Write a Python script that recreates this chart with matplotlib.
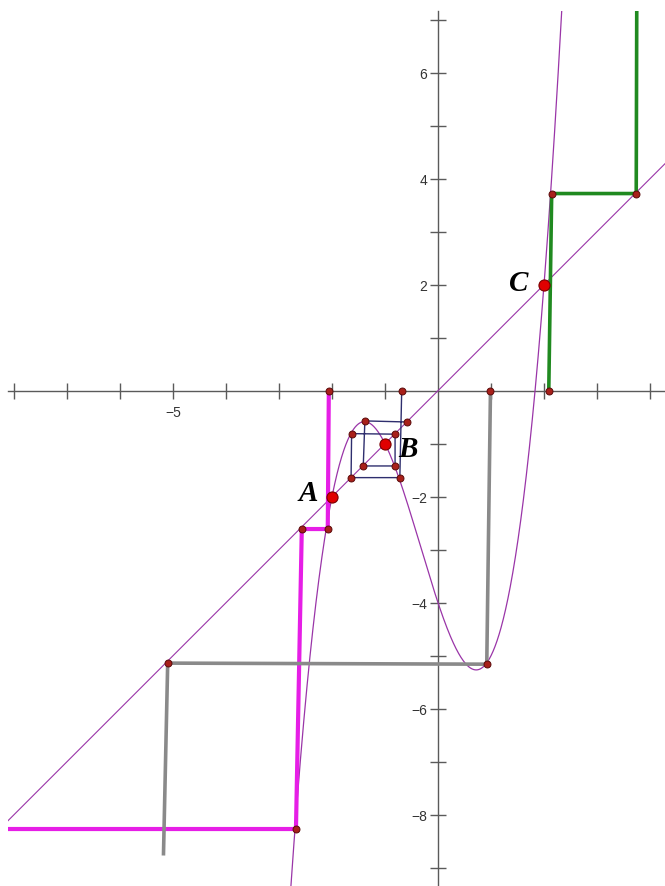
import numpy as np
import matplotlib
matplotlib.use("Agg")
import matplotlib.pyplot as plt

# === data ===
# cubic f(x) = x^3 + x^2 - 3x - 4 and the line y = x
cubic_coeffs = [1, 1, -3, -4]

# fixed points
fixed_names = ["A", "B", "C"]
fixed_x = [-2.0, -1.0, 2.0]
fixed_y = [-2.0, -1.0, 2.0]

# cobweb paths (vertices in data coords)
magenta_x = [-2.06, -2.08, -2.57, -2.68, -8.12]
magenta_y = [0.0, -2.61, -2.61, -8.27, -8.27]
magenta_dots = 4  # first n vertices carry a dot

grey_x = [0.99, 0.92, -5.10, -5.18]
grey_y = [0.0, -5.16, -5.14, -8.77]
grey_dots = 3

green_x = [2.09, 2.145, 3.74, 3.75]
green_y = [0.0, 3.72, 3.72, 7.2]
green_dots = 3

blue_x = [-0.685, -0.72, -1.64, -1.63, -0.81, -0.81, -1.41, -1.38, -0.59]
blue_y = [0.0, -1.64, -1.64, -0.81, -0.82, -1.42, -1.42, -0.57, -0.59]
blue_dots = 9

x_ticks = list(range(-8, 5))
x_labels = {-5: "\u22125"}
y_ticks = list(range(-9, 8))
y_labels = {6: "6", 4: "4", 2: "2", -2: "\u22122", -4: "\u22124", -6: "\u22126", -8: "\u22128"}

# === figure ===
W, H = 665, 887
fig = plt.figure(figsize=(W / 100, H / 100), dpi=100)
left_px, top_px = 8, 12
ax = fig.add_axes([left_px / W, 0, (W - left_px) / W, (H - top_px) / H])
unit = 53.0
ox, oy = 438.0, 391.7
ax.set_xlim((left_px - ox) / unit, (W - ox) / unit)
ax.set_ylim(-(H - oy) / unit, (oy - top_px) / unit)
ax.set_aspect("equal", adjustable="box")

axis_col = "#5a5a5a"
for s in ["top", "right"]:
    ax.spines[s].set_visible(False)
ax.spines["left"].set_position(("data", 0))
ax.spines["bottom"].set_position(("data", 0))
for s in ["left", "bottom"]:
    ax.spines[s].set_color(axis_col)
    ax.spines[s].set_linewidth(1.0)

ax.set_xticks(x_ticks)
ax.set_xticklabels([x_labels.get(t, "") for t in x_ticks])
ax.set_yticks(y_ticks)
ax.set_yticklabels([y_labels.get(t, "") for t in y_ticks])
for lab in ax.get_xticklabels() + ax.get_yticklabels():
    lab.set_family(["Liberation Sans", "DejaVu Sans"])
ax.tick_params(direction="inout", length=11, width=1.0, color=axis_col,
               labelsize=10, labelcolor="#333333", pad=2.5)
ax.tick_params(axis="x", pad=5)
# hide ticks at origin
for t in ax.xaxis.get_major_ticks():
    if abs(t.get_loc()) < 1e-9:
        t.tick1line.set_visible(False)
for t in ax.yaxis.get_major_ticks():
    if abs(t.get_loc()) < 1e-9:
        t.tick1line.set_visible(False)

curve_col = "#9a35a8"
xmin, xmax = ax.get_xlim()
xs = np.linspace(xmin, xmax, 2000)
ax.plot(xs, np.polyval(cubic_coeffs, xs), color=curve_col, lw=0.9, zorder=3)
ax.plot([xmin, xmax], [xmin, xmax], color=curve_col, lw=0.8, zorder=3)

dot_kw = dict(ls="none", marker="o", ms=5, mfc="#a8201a", mec="#5a0a0a", mew=0.7, zorder=6)

paths = [
    (magenta_x, magenta_y, magenta_dots, "#e61ee6", 3.0),
    (grey_x, grey_y, grey_dots, "#8a8a8a", 2.6),
    (green_x, green_y, green_dots, "#208a20", 2.6),
    (blue_x, blue_y, blue_dots, "#2e2e6e", 1.0),
]
for px, py, nd, col, lw in paths:
    ax.plot(px, py, color=col, lw=lw, zorder=4, solid_capstyle="butt")
    ax.plot(px[:nd], py[:nd], **dot_kw)

ax.plot(fixed_x, fixed_y, ls="none", marker="o", ms=8, mfc="#e00000",
        mec="#7a0000", mew=0.8, zorder=7)

label_off = {"A": (-0.45, 0.08), "B": (0.43, -0.1), "C": (-0.48, 0.05)}
for name, fx, fy in zip(fixed_names, fixed_x, fixed_y):
    dx, dy = label_off[name]
    ax.text(fx + dx, fy + dy, name, family="Liberation Serif", fontsize=21,
            fontweight="bold", style="italic", ha="center", va="center", zorder=8)

fig.savefig("out.png", dpi=100)
